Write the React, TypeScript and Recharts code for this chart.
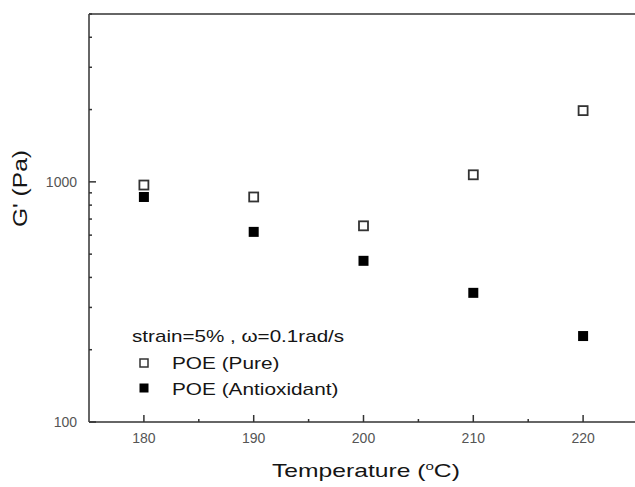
import React from 'react';
import { ScatterChart, Scatter, XAxis, YAxis, Label } from 'recharts';

const temperatures = [180, 190, 200, 210, 220];
const pureModulus = [970, 865, 656, 1070, 1980];
const antioxidantModulus = [865, 619, 469, 345, 228];

const xTicks = [180, 185, 190, 195, 200, 205, 210, 215, 220];
const xLabels = [180, 190, 200, 210, 220];
const yTicks = [100, 200, 300, 400, 500, 600, 700, 800, 900, 1000, 2000, 3000, 4000, 5000];
const yLabels = [100, 1000];

const pureData = temperatures.map((t, i) => ({ t, g: pureModulus[i] }));
const antioxidantData = temperatures.map((t, i) => ({ t, g: antioxidantModulus[i] }));

const AXIS = '#666';
const TICK = '#333';
const TEXT = '#151515';
const FONT = '"Liberation Sans", Arial, sans-serif';

// the source figure's type is wider than Arial, so text gets stretched along its run
const WideText = ({ x, y, size, sx, rotate = 0, anchor = 'start', children }: any) => (
  <g transform={`translate(${x},${y}) rotate(${rotate}) scale(${sx},1)`}>
    <text x={0} y={0} textAnchor={anchor} fontSize={size} fill={TEXT} fontFamily={FONT}>
      {children}
    </text>
  </g>
);

const BottomTick = (props: any) => {
  const { x, y, payload } = props;
  const major = xLabels.includes(payload.value);
  return (
    <g>
      <line x1={x} x2={x} y1={y} y2={y - (major ? 7 : 3)} stroke={TICK} strokeWidth={1.5} />
      {major && (
        <text x={x} y={y + 21} textAnchor="middle" fontSize={14} fill="#555" fontFamily={FONT}>
          {payload.value}
        </text>
      )}
    </g>
  );
};

const TopTick = (props: any) => {
  const { x, y, payload } = props;
  const major = xLabels.includes(payload.value);
  return <line x1={x} x2={x} y1={y} y2={y + (major ? 8 : 3)} stroke={TICK} strokeWidth={1.5} />;
};

const LeftTick = (props: any) => {
  const { x, y, payload } = props;
  const major = yLabels.includes(payload.value);
  return (
    <g>
      <line x1={x} x2={x + (major ? 7 : 3)} y1={y} y2={y} stroke={TICK} strokeWidth={1.5} />
      {major && (
        <text x={x - 12} y={y + 5} textAnchor="end" fontSize={14} fill="#555" fontFamily={FONT}>
          {payload.value}
        </text>
      )}
    </g>
  );
};

const OpenSquare = (props: any) => (
  <rect x={props.cx - 4.5} y={props.cy - 4.5} width={9} height={9} fill="#fff" stroke="#333" strokeWidth={1.8} />
);

const FilledSquare = (props: any) => (
  <rect x={props.cx - 5} y={props.cy - 5} width={10} height={10} fill="#000" />
);

const LegendBox = () => (
  <svg width={635} height={487} style={{ position: 'absolute', left: 0, top: 0, pointerEvents: 'none' }}>
    <WideText x={132} y={342} size={16} sx={1.29}>strain=5% , ω=0.1rad/s</WideText>
    <rect x={140} y={359} width={8} height={8} fill="#fff" stroke="#333" strokeWidth={1.5} />
    <WideText x={172} y={369} size={16} sx={1.3}>POE (Pure)</WideText>
    <rect x={139.5} y={383.5} width={9} height={9} fill="#000" />
    <WideText x={172} y={395} size={16} sx={1.3}>POE (Antioxidant)</WideText>
  </svg>
);

const App = () => {
  return (
    <div style={{ position: 'absolute', left: 0, top: 0, width: 635, height: 487, overflow: 'hidden', background: '#fff' }}>
      <ScatterChart width={640} height={487} margin={{ top: 0, right: 2, bottom: 0, left: 0 }}>
        <XAxis
          dataKey="t"
          type="number"
          domain={[175, 225]}
          ticks={xTicks}
          interval={0}
          height={65}
          tickSize={0}
          tickMargin={0}
          tick={<BottomTick />}
          stroke={AXIS}
          strokeWidth={2}
        >
          <Label
            content={() => (
              <WideText x={272} y={477} size={18} sx={1.37}>
                Temperature (<tspan dy={-7} fontSize={11}>o</tspan>
                <tspan dy={7}>C)</tspan>
              </WideText>
            )}
          />
        </XAxis>
        <XAxis
          xAxisId="top"
          orientation="top"
          dataKey="t"
          type="number"
          domain={[175, 225]}
          ticks={xTicks}
          interval={0}
          height={14}
          tickSize={0}
          tickMargin={0}
          tick={<TopTick />}
          stroke={AXIS}
          strokeWidth={2}
        />
        <YAxis
          dataKey="g"
          type="number"
          scale="log"
          domain={[100, 5000]}
          allowDataOverflow
          ticks={yTicks}
          interval={0}
          width={89}
          tickSize={0}
          tickMargin={0}
          tick={<LeftTick />}
          stroke={AXIS}
          strokeWidth={2}
        >
          <Label
            content={() => (
              <WideText x={27} y={188.5} size={19.5} sx={1.26} rotate={-90} anchor="middle">
                G' (Pa)
              </WideText>
            )}
          />
        </YAxis>
        <Scatter name="POE (Pure)" data={pureData} shape={OpenSquare} isAnimationActive={false} />
        <Scatter name="POE (Antioxidant)" data={antioxidantData} shape={FilledSquare} isAnimationActive={false} />
      </ScatterChart>
      <LegendBox />
    </div>
  );
};

export default App;
